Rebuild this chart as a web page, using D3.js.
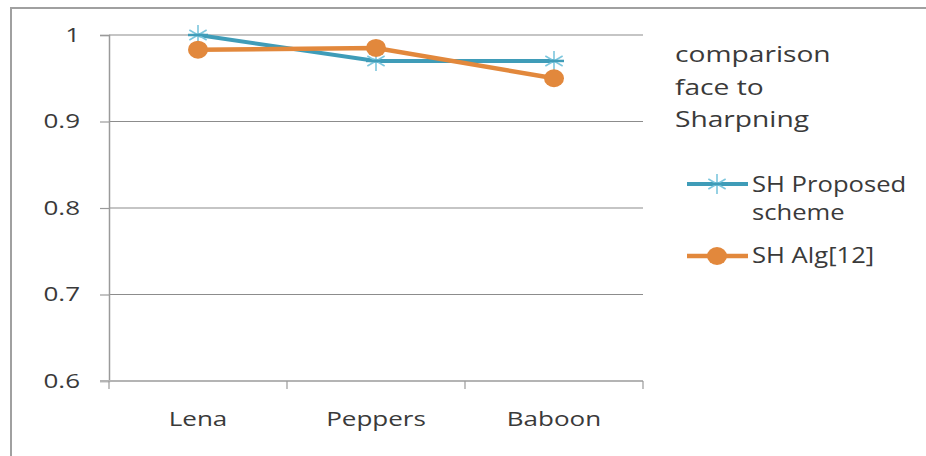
<!DOCTYPE html>
<html>
<head>
<meta charset="utf-8">
<script src="https://cdn.jsdelivr.net/npm/d3@7"></script>
<style>
  html, body { margin: 0; padding: 0; background: #fff; }
  svg { display: block; }
  text { font-family: "Open Sans", "Noto Sans", sans-serif; fill: #3a3a3a; }
</style>
</head>
<body>
<script>
// Sharpening comparison data
const categories = ["Lena", "Peppers", "Baboon"];
const proposed = [1.0, 0.97, 0.97];
const alg12 = [0.983, 0.985, 0.95];
const yTicks = [0.6, 0.7, 0.8, 0.9, 1];
const titleLines = ["comparison", "face to", "Sharpning"];
const seriesNames = [["SH Proposed", "scheme"], ["SH Alg[12]"]];

const W = 926, H = 456;
const WIDEN = 1.3; // wide lettering
const svg = d3.select("body").append("svg").attr("width", W).attr("height", H);

function widen(sel, k = WIDEN) {
  sel.each(function () {
    const len = this.getComputedTextLength();
    d3.select(this).attr("textLength", len * k).attr("lengthAdjust", "spacingAndGlyphs");
  });
}

// chart frame
svg.append("path")
  .attr("d", `M11,${H + 2} L11,8 L${W + 2},8`)
  .attr("fill", "none").attr("stroke", "#a0a0a0").attr("stroke-width", 2);

const plot = { left: 109, right: 643, top: 35, bottom: 381 };

const x = d3.scaleBand().domain(categories).range([plot.left, plot.right]);
const y = d3.scaleLinear().domain([0.6, 1]).range([plot.bottom, plot.top]);

// horizontal gridlines
svg.append("g").selectAll("line").data(yTicks.slice(1)).join("line")
  .attr("x1", plot.left).attr("x2", plot.right)
  .attr("y1", d => y(d)).attr("y2", d => y(d))
  .attr("stroke", "#8c8c8c").attr("stroke-width", 1.2);

// y axis
const yAxis = svg.append("g").attr("transform", `translate(${plot.left},0)`)
  .call(d3.axisLeft(y).tickValues(yTicks).tickSize(9).tickPadding(20)
    .tickFormat(d => d === 1 ? "1" : d3.format(".1f")(d)));
yAxis.select(".domain").attr("stroke", "#9a9a9a").attr("stroke-width", 1.5);
yAxis.selectAll(".tick line").attr("stroke", "#9a9a9a").attr("stroke-width", 1.2);
yAxis.selectAll(".tick text").attr("font-size", 20).attr("fill", "#3a3a3a")
  .attr("font-family", "\"Open Sans\", sans-serif").call(widen);

// x axis
const xAxis = svg.append("g").attr("transform", `translate(0,${plot.bottom})`)
  .call(d3.axisBottom(x).tickSize(0).tickPadding(31));
xAxis.select(".domain").remove();
xAxis.selectAll(".tick text").attr("font-size", 20).attr("fill", "#3a3a3a")
  .attr("font-family", "\"Open Sans\", sans-serif").call(widen);
svg.append("line")
  .attr("x1", plot.left - 9).attr("x2", plot.right)
  .attr("y1", plot.bottom).attr("y2", plot.bottom)
  .attr("stroke", "#b4b4b4").attr("stroke-width", 2);
const bounds = [plot.left, ...categories.map(c => x(c) + x.bandwidth())];
svg.append("g").selectAll("line").data(bounds).join("line")
  .attr("x1", d => d).attr("x2", d => d)
  .attr("y1", plot.bottom).attr("y2", plot.bottom + 8)
  .attr("stroke", "#9a9a9a").attr("stroke-width", 1.2);

const cx = c => x(c) + x.bandwidth() / 2;
const line = d3.line().x(d => cx(d.c)).y(d => y(d.v));

const teal = "#3f9cb8", tealLight = "#7cc6dd", orange = "#e2883c";

// asterisk marker
function star(g, px, py, r) {
  const a = g.append("g").attr("transform", `translate(${px},${py})`);
  [0, 60, 120].forEach(ang => {
    const rad = ang * Math.PI / 180;
    a.append("line")
      .attr("x1", -r * Math.sin(rad)).attr("y1", -r * Math.cos(rad))
      .attr("x2", r * Math.sin(rad)).attr("y2", r * Math.cos(rad))
      .attr("stroke", tealLight).attr("stroke-width", 1.6);
  });
  a.append("line").attr("x1", -r).attr("x2", r).attr("y1", 0).attr("y2", 0)
    .attr("stroke", teal).attr("stroke-width", 2.5);
}

// proposed scheme series
const pData = categories.map((c, i) => ({ c, v: proposed[i] }));
svg.append("path").datum(pData).attr("d", line)
  .attr("fill", "none").attr("stroke", teal).attr("stroke-width", 4);
const pg = svg.append("g");
pData.forEach(d => star(pg, cx(d.c), y(d.v), 10));

// Alg[12] series
const aData = categories.map((c, i) => ({ c, v: alg12[i] }));
svg.append("path").datum(aData).attr("d", line)
  .attr("fill", "none").attr("stroke", orange).attr("stroke-width", 4.5);
svg.append("g").selectAll("ellipse").data(aData).join("ellipse")
  .attr("cx", d => cx(d.c)).attr("cy", d => y(d.v))
  .attr("rx", 10).attr("ry", 9).attr("fill", orange);

// legend title
svg.append("g").selectAll("text").data(titleLines).join("text")
  .attr("x", 675).attr("y", (d, i) => 62 + i * 32.5)
  .attr("font-size", 22).text(d => d).call(widen, 1.28);

// legend entries
const lx1 = 687, lx2 = 748, lmid = 717;
svg.append("line").attr("x1", lx1).attr("x2", lx2).attr("y1", 184).attr("y2", 184)
  .attr("stroke", teal).attr("stroke-width", 4);
star(svg, lmid, 184, 10);
svg.append("g").selectAll("text").data(seriesNames[0]).join("text")
  .attr("x", 752).attr("y", (d, i) => 192 + i * 28)
  .attr("font-size", 21).text(d => d).call(widen, 1.22);

svg.append("line").attr("x1", lx1).attr("x2", lx2).attr("y1", 256).attr("y2", 256)
  .attr("stroke", orange).attr("stroke-width", 4.5);
svg.append("ellipse").attr("cx", lmid).attr("cy", 256).attr("rx", 10).attr("ry", 9)
  .attr("fill", orange);
svg.append("text").attr("x", 752).attr("y", 263).attr("font-size", 21)
  .text(seriesNames[1][0]).call(widen, 1.22);
</script>
</body>
</html>
